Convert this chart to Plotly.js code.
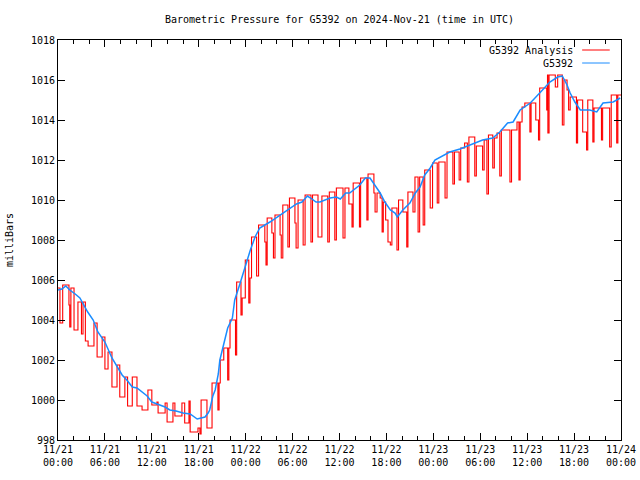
<!DOCTYPE html>
<html>
<head>
<meta charset="utf-8">
<script src="https://cdn.plot.ly/plotly-3.0.1.min.js"></script>
<style>html,body{margin:0;padding:0;background:#fff;}#chart{width:640px;height:480px;}</style>
</head>
<body>
<div id="chart"></div>
<script>
// Start of the time axis (UTC)
var startDate = "2024-11-21";
// G5392 Analysis (red, step) — hours since start, millibars
var analysisHours = [0,0.25,0.6,1.4,1.5,1.65,2.05,2.55,3.0,3.2,3.5,3.85,4.6,5.0,5.65,6.0,6.4,6.9,7.55,7.9,8.55,8.9,9.5,10.1,10.75,11.5,12.0,12.65,12.8,13.7,13.95,14.7,14.95,15.85,16.2,16.75,16.9,17.9,18.15,18.3,19.05,19.7,20.45,20.6,20.75,21.2,21.7,21.85,22.0,22.7,22.85,23.4,23.55,23.95,24.4,24.55,24.75,25.4,25.65,26.45,26.6,26.75,27.35,27.55,27.75,28.4,28.55,28.75,29.4,29.6,30.3,30.45,30.7,31.35,31.6,32.35,32.55,33.25,33.75,34.5,34.7,35.4,35.6,36.45,36.7,37.2,37.6,37.75,38.55,38.7,39.5,39.65,40.4,40.55,40.8,41.2,41.45,41.6,41.9,42.2,42.5,42.7,43.35,43.55,44.1,44.6,44.75,45.4,45.65,46.05,46.25,46.7,46.9,47.6,47.9,48.5,48.7,49.5,49.75,50.5,50.7,51.3,51.5,52.0,52.35,52.55,53.3,53.5,54.3,54.5,54.85,55.05,55.6,55.8,56.15,56.5,56.7,57.8,58.0,58.7,58.95,59.1,59.35,59.7,60.35,60.5,61.1,61.45,61.6,62.5,62.6,62.65,62.8,63.6,63.9,64.5,64.7,65.1,65.3,65.5,66.3,66.45,67.1,67.6,67.75,68.4,68.55,69.5,69.65,70.55,70.75,71.45,71.6,72];
var analysisValues = [1005.6,1003.85,1005.75,1004.75,1003.65,1005.6,1003.5,1004.9,1003.3,1004.9,1002.95,1002.7,1003.85,1002.15,1003.15,1001.55,1002.4,1000.65,1001.75,1000.15,1001.15,999.7,1001.15,999.7,999.5,1000.5,999.75,999.9,999.35,999.85,998.9,999.85,999.2,999.85,998.85,999.95,998.4,998.6,998.3,1000.0,998.6,1000.85,999.5,1000.85,1002.0,1002.6,1001.0,1002.6,1004.0,1002.25,1005.9,1004.25,1005.1,1007.0,1004.85,1006.1,1008.15,1006.2,1008.75,1007.9,1006.75,1009.1,1008.35,1007.1,1009.25,1008.25,1007.1,1009.75,1007.65,1010.1,1008.85,1007.6,1010.0,1007.75,1010.25,1007.9,1010.25,1008.15,1010.2,1007.9,1010.4,1008.0,1010.6,1008.1,1010.6,1009.8,1008.65,1010.85,1008.65,1011.1,1009.0,1011.3,1010.35,1009.4,1010.35,1010.1,1008.4,1009.9,1009.0,1007.9,1007.75,1009.6,1007.5,1010.0,1009.4,1007.65,1010.4,1009.4,1011.15,1008.4,1011.15,1008.75,1011.5,1009.6,1011.85,1009.85,1011.9,1010.1,1012.4,1010.8,1012.4,1011.0,1012.6,1012.85,1010.9,1013.15,1011.2,1012.7,1011.5,1013.0,1010.3,1013.25,1011.6,1013.1,1013.35,1011.2,1013.5,1010.9,1013.5,1013.9,1011.0,1013.9,1014.65,1014.85,1013.4,1014.85,1014.0,1013.0,1015.6,1014.5,1016.25,1013.35,1016.25,1015.65,1016.25,1013.75,1016.0,1015.5,1014.5,1015.15,1012.85,1015.0,1013.4,1012.5,1015.0,1012.9,1014.6,1013.0,1014.6,1012.65,1015.25,1012.85,1015.25,1015.25];
// G5392 observations (blue)
var obsHours = [0,0.5,1.0,1.5,2.2,2.8,3.8,4.5,5.1,6.0,6.9,7.5,8.2,8.8,9.5,10.1,10.7,11.4,12.0,12.8,13.7,14.3,15.1,16.0,16.9,17.8,18.3,18.8,19.2,19.4,19.8,20.1,20.5,20.7,21.2,21.7,22.3,22.6,23.3,23.9,24.6,25.2,25.8,27.1,28.4,29.7,30.5,31.2,31.9,32.3,33.0,33.5,34.1,34.8,35.6,36.1,36.8,37.3,38.6,39.3,39.9,40.5,41.2,41.8,42.5,43.1,43.4,44.1,45.0,45.7,46.3,46.9,47.6,48.2,50.1,51.4,52.7,54.3,55.6,56.5,57.5,58.2,59.1,60.4,61.6,62.3,62.9,63.9,64.5,65.1,65.5,66.1,66.8,68.0,68.9,69.7,71.0,71.9];
var obsValues = [1005.5,1005.55,1005.7,1005.5,1005.3,1005.1,1004.4,1004.0,1003.4,1002.9,1002.1,1001.7,1001.25,1001.0,1000.65,1000.6,1000.4,1000.2,999.9,999.8,999.65,999.5,999.45,999.35,999.3,999.05,999.1,999.15,999.35,999.5,1000.2,1000.5,1001.3,1002.0,1002.8,1003.6,1004.1,1005.0,1005.85,1006.65,1007.5,1008.15,1008.6,1008.9,1009.25,1009.6,1009.8,1009.9,1010.2,1010.1,1009.9,1009.9,1010.0,1010.1,1010.15,1010.05,1010.35,1010.35,1010.75,1011.1,1011.1,1010.75,1010.35,1009.9,1009.5,1009.35,1009.15,1009.5,1009.85,1010.35,1010.65,1011.25,1011.6,1012.0,1012.4,1012.55,1012.75,1013.0,1013.1,1013.4,1013.85,1013.9,1014.5,1014.85,1015.35,1015.65,1015.9,1016.15,1016.2,1015.75,1015.35,1014.9,1014.5,1014.5,1014.4,1014.85,1014.9,1015.1];
// Axis ticks
var tickHours = [0,6,12,18,24,30,36,42,48,54,60,66,72];
var tickLabels = ["11/21<br>00:00","11/21<br>06:00","11/21<br>12:00","11/21<br>18:00","11/22<br>00:00","11/22<br>06:00","11/22<br>12:00","11/22<br>18:00","11/23<br>00:00","11/23<br>06:00","11/23<br>12:00","11/23<br>18:00","11/24<br>00:00"];
var yTicks = [998,1000,1002,1004,1006,1008,1010,1012,1014,1016,1018];
var seriesNames = ["G5392 Analysis","G5392"];
var seriesColors = ["#ff0000","#1a8cff"];

var base = Date.UTC(2024,10,21);
function toDate(h){ return new Date(base + h*3600000).toISOString().slice(0,19).replace('T',' '); }

var font = {family:"DejaVu Sans Mono, Liberation Mono, monospace", size:10, color:"#000"};

var traces = [
  {x: analysisHours.map(toDate), y: analysisValues, type:"scatter", mode:"lines",
   name: seriesNames[0], line:{color:seriesColors[0], width:1.1, shape:"hv"}, showlegend:false},
  {x: obsHours.map(toDate), y: obsValues, type:"scatter", mode:"lines",
   name: seriesNames[1], line:{color:seriesColors[1], width:1.5}, showlegend:false}
];

var legendX = 0.918, lineX0 = 0.931, lineX1 = 0.980, legY = [0.975, 0.9425];
var annotations = [], shapes = [];
for (var i=0;i<2;i++){
  annotations.push({xref:"paper", yref:"paper", x:legendX, y:legY[i], xanchor:"right", yanchor:"middle",
    text:seriesNames[i], showarrow:false, font:font});
  shapes.push({type:"line", xref:"paper", yref:"paper", x0:lineX0, x1:lineX1, y0:legY[i], y1:legY[i],
    line:{color:seriesColors[i], width:1}});
}

var layout = {
  width:640, height:480,
  margin:{l:58, r:19, t:40, b:40},
  paper_bgcolor:"#fff", plot_bgcolor:"#fff",
  font:font,
  showlegend:false,
  title:{text:"Barometric Pressure for G5392 on 2024-Nov-21 (time in UTC)", font:font,
         x:0.5, xanchor:"center", y:1-19/480, yanchor:"middle", xref:"paper"},
  xaxis:{type:"date", range:[toDate(0), toDate(72)], tickvals:tickHours.map(toDate), ticktext:tickLabels,
         ticks:"inside", ticklen:7, tickcolor:"#000", showline:true, linecolor:"#000", linewidth:1,
         mirror:"allticks", showgrid:false, zeroline:false, tickfont:font,
         minor:{dtick:2*3600000, tick0:toDate(0), ticks:"inside", ticklen:4, tickcolor:"#000", showgrid:false}},
  yaxis:{range:[998,1018], tickvals:yTicks, ticktext:yTicks.map(String),
         ticks:"inside", ticklen:7, tickcolor:"#000", showline:true, linecolor:"#000", linewidth:1,
         mirror:"allticks", showgrid:false, zeroline:false, tickfont:font,
         title:{text:"milliBars", font:font, standoff:15}},
  annotations:annotations,
  shapes:shapes
};

Plotly.newPlot("chart", traces, layout, {staticPlot:true, displayModeBar:false});
</script>
</body>
</html>
